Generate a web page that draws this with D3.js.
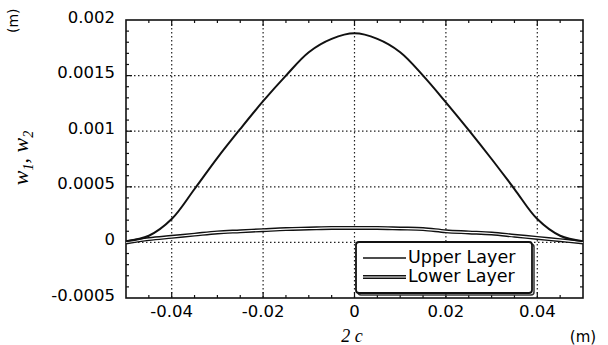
<!DOCTYPE html>
<html>
<head>
<meta charset="utf-8">
<script src="https://cdn.jsdelivr.net/npm/d3@7"></script>
<style>
  body { margin: 0; background: #fff; }
  text { font-family: "DejaVu Sans", Arial, sans-serif; fill: #000; }
</style>
</head>
<body>
<svg id="chart" width="608" height="345"></svg>
<script>
// positions along the span (m)
const xs = [-0.05, -0.045, -0.04, -0.035, -0.03, -0.025, -0.02, -0.015, -0.01, -0.005, 0,
            0.005, 0.01, 0.015, 0.02, 0.025, 0.03, 0.035, 0.04, 0.045, 0.05];
// upper layer deflection w1 (m)
const upperLayer = [0.00001, 0.00006, 0.00021, 0.00048, 0.00076, 0.00102, 0.00127, 0.0015, 0.00171, 0.00183, 0.00188,
                    0.00183, 0.00171, 0.0015, 0.00126, 0.00101, 0.00075, 0.00048, 0.00021, 0.00006, 0.00001];
// lower layer deflection w2 (m)
const lowerLayer = [0.0, 0.00003, 0.00005, 0.00007, 0.00009, 0.0001, 0.00011, 0.00012, 0.000125, 0.00013, 0.00013,
                    0.00013, 0.000125, 0.00012, 0.0001, 0.00009, 0.00008, 0.00006, 0.00004, 0.00002, 0.0];
const xTicks = [-0.04, -0.02, 0, 0.02, 0.04];
const yTicks = [-0.0005, 0, 0.0005, 0.001, 0.0015, 0.002];
const seriesNames = ["Upper Layer", "Lower Layer"];

const svg = d3.select("#chart");
const pLeft = 126, pRight = 583, pTop = 20, pBottom = 298;

const x = d3.scaleLinear().domain([-0.05, 0.05]).range([pLeft, pRight]);
const y = d3.scaleLinear().domain([-0.0005, 0.002]).range([pBottom, pTop]);

// grid
const grid = svg.append("g").attr("stroke", "#222").attr("stroke-width", 1.2).attr("stroke-dasharray", "1.5,2.5");
grid.selectAll(".gx").data(xTicks).enter().append("line")
  .attr("x1", d => x(d)).attr("x2", d => x(d)).attr("y1", pTop).attr("y2", pBottom);
grid.selectAll(".gy").data(yTicks.filter(d => d > -0.0005 && d < 0.002)).enter().append("line")
  .attr("y1", d => y(d)).attr("y2", d => y(d)).attr("x1", pLeft).attr("x2", pRight);

// frame
svg.append("rect").attr("x", pLeft).attr("y", pTop).attr("width", pRight - pLeft).attr("height", pBottom - pTop)
  .attr("fill", "none").attr("stroke", "#111").attr("stroke-width", 1.6);

// inner ticks
const tk = svg.append("g").attr("stroke", "#111").attr("stroke-width", 1.2);
const xMinor = d3.range(-0.045, 0.0451, 0.005);
const yMinor = d3.range(-0.0004, 0.00195, 0.0001);
xMinor.forEach(v => {
  const major = xTicks.some(t => Math.abs(t - v) < 1e-9);
  const len = major ? 6 : 3;
  tk.append("line").attr("x1", x(v)).attr("x2", x(v)).attr("y1", pBottom).attr("y2", pBottom - len);
  tk.append("line").attr("x1", x(v)).attr("x2", x(v)).attr("y1", pTop).attr("y2", pTop + len);
});
yMinor.forEach(v => {
  const major = yTicks.some(t => Math.abs(t - v) < 1e-9);
  const len = major ? 6 : 3;
  tk.append("line").attr("y1", y(v)).attr("y2", y(v)).attr("x1", pLeft).attr("x2", pLeft + len);
  tk.append("line").attr("y1", y(v)).attr("y2", y(v)).attr("x1", pRight).attr("x2", pRight - len);
});

// tick labels
svg.selectAll(".yl").data(yTicks).enter().append("text")
  .attr("x", 115).attr("y", d => y(d) + 2.5).attr("text-anchor", "end")
  .attr("font-size", 16.5).text(d => d === 0 ? "0" : String(d));
svg.selectAll(".xl").data(xTicks).enter().append("text")
  .attr("x", d => x(d)).attr("y", 317).attr("text-anchor", "middle")
  .attr("font-size", 16.5).text(d => d === 0 ? "0" : String(d));

// curves
const line = d3.line().x((d, i) => x(xs[i])).y(d => y(d)).curve(d3.curveCatmullRom.alpha(0.5));
svg.append("path").attr("d", line(lowerLayer)).attr("fill", "none").attr("stroke", "#111").attr("stroke-width", 4);
svg.append("path").attr("d", line(lowerLayer)).attr("fill", "none").attr("stroke", "#fff").attr("stroke-width", 1.2);
svg.append("path").attr("d", line(upperLayer)).attr("fill", "none").attr("stroke", "#111").attr("stroke-width", 2);

// legend
const lg = svg.append("g");
lg.append("rect").attr("x", 358).attr("y", 244).attr("width", 176).attr("height", 51).attr("rx", 3)
  .attr("fill", "none").attr("stroke", "#333").attr("stroke-width", 1.5);
lg.append("rect").attr("x", 356).attr("y", 242).attr("width", 176).attr("height", 51).attr("rx", 3)
  .attr("fill", "#fff").attr("stroke", "#111").attr("stroke-width", 1.8);
lg.append("line").attr("x1", 363).attr("x2", 406).attr("y1", 258).attr("y2", 258)
  .attr("stroke", "#111").attr("stroke-width", 1.5);
lg.append("line").attr("x1", 363).attr("x2", 406).attr("y1", 277).attr("y2", 277)
  .attr("stroke", "#111").attr("stroke-width", 4);
lg.append("line").attr("x1", 363).attr("x2", 406).attr("y1", 277).attr("y2", 277)
  .attr("stroke", "#fff").attr("stroke-width", 1.2);
lg.selectAll(".lt").data(seriesNames).enter().append("text")
  .attr("x", 408).attr("y", (d, i) => 263 + i * 19).attr("font-size", 17.5).text(d => d);

// axis titles
svg.append("text").attr("transform", "translate(18,33) rotate(-90)")
  .attr("font-size", 14).text("(m)");
const yt = svg.append("text").attr("transform", "translate(28,158) rotate(-90)").attr("text-anchor", "middle")
  .style("font-family", "'Liberation Serif', serif").style("font-style", "italic").attr("font-size", 22);
yt.append("tspan").text("w");
yt.append("tspan").attr("dy", 5).attr("font-size", 14).text("1");
yt.append("tspan").attr("dy", -5).style("font-style", "normal").text(", ");
yt.append("tspan").text("w");
yt.append("tspan").attr("dy", 5).attr("font-size", 14).text("2");
svg.append("text").attr("x", 352).attr("y", 342).attr("text-anchor", "middle")
  .style("font-family", "'Liberation Serif', serif").style("font-style", "italic").attr("font-size", 18).text("2 c");
svg.append("text").attr("x", 583).attr("y", 342).attr("text-anchor", "middle").attr("font-size", 15).text("(m)");
</script>
</body>
</html>
